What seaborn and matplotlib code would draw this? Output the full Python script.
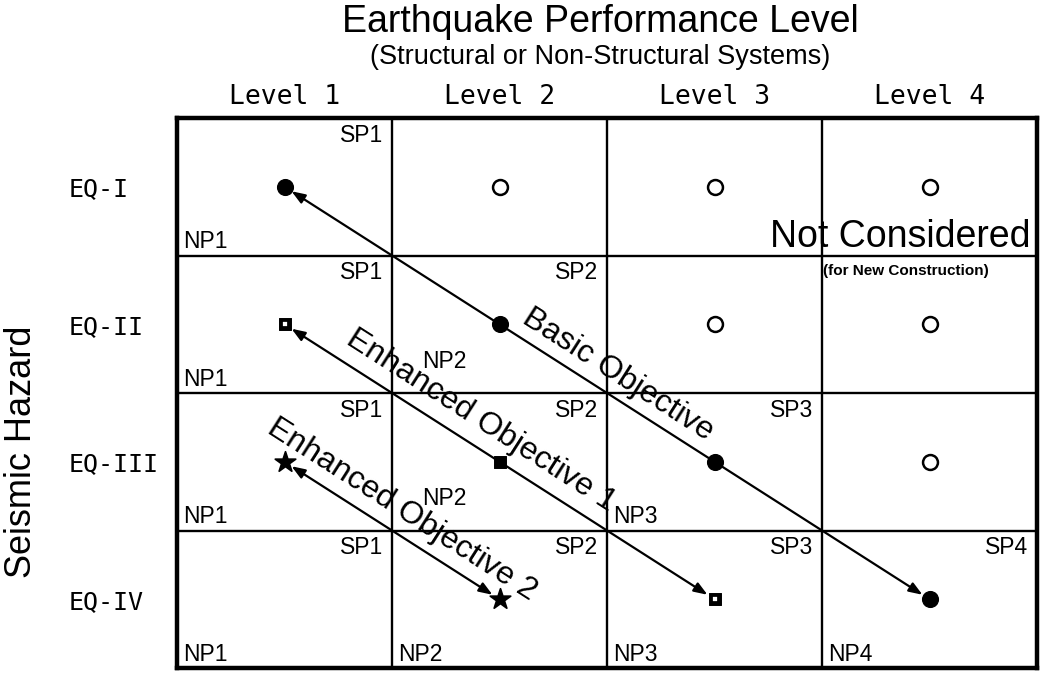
import numpy as np
import matplotlib
matplotlib.use("Agg")
import matplotlib.pyplot as plt
import seaborn as sns

# -----------------------------
# Data
# -----------------------------
levels = ["Level 1", "Level 2", "Level 3", "Level 4"]
hazards = ["EQ-I", "EQ-II", "EQ-III", "EQ-IV"]

# objectives: level index, hazard index
basic_lvl = [0, 1, 2, 3]
basic_haz = [0, 1, 2, 3]
enh1_lvl = [0, 1, 2]
enh1_haz = [1, 2, 3]
enh2_lvl = [0, 1]
enh2_haz = [2, 3]

# not considered (for new construction)
nc_lvl = [1, 2, 3, 2, 3, 3]
nc_haz = [0, 0, 0, 1, 1, 2]

# performance labels per cell: (level, hazard, SP label, NP label)
cell_lvl = [0, 0, 1, 0, 1, 2, 0, 1, 2, 3]
cell_haz = [0, 1, 1, 2, 2, 2, 3, 3, 3, 3]
cell_sp = ["SP1", "SP1", "SP2", "SP1", "SP2", "SP3", "SP1", "SP2", "SP3", "SP4"]
cell_np = ["NP1", "NP1", "NP2", "NP1", "NP2", "NP3", "NP1", "NP2", "NP3", "NP4"]
raised_np = [False, False, True, False, True, False, False, False, False, False]

objective_names = ["Basic Objective", "Enhanced Objective 1", "Enhanced Objective 2"]
objective_text_pos = [(1.55, 1.37), (0.915, 1.70), (0.545, 2.35)]

# -----------------------------
# Figure
# -----------------------------
sns.set_style("white")
plt.rcParams["font.family"] = ["Liberation Sans", "DejaVu Sans"]
plt.rcParams["text.color"] = "black"
plt.rcParams["xtick.color"] = "black"
plt.rcParams["ytick.color"] = "black"

fig = plt.figure(figsize=(10.44, 6.74), dpi=100)
ax = fig.add_axes([177 / 1044, 6 / 674, 860 / 1044, 550 / 674])

# markers
sns.scatterplot(x=nc_lvl, y=nc_haz, marker="o", s=115, facecolor="white",
                edgecolor="black", linewidth=1.8, ax=ax, zorder=4)
sns.scatterplot(x=basic_lvl, y=basic_haz, marker="o", s=130, color="black",
                edgecolor="black", ax=ax, zorder=4)
sns.scatterplot(x=enh1_lvl, y=enh1_haz, marker="s", s=75, color="black",
                edgecolor="black", ax=ax, zorder=4)
sns.scatterplot(x=[enh1_lvl[0], enh1_lvl[-1]], y=[enh1_haz[0], enh1_haz[-1]],
                marker="s", s=5, color="white", edgecolor="white", ax=ax, zorder=5)
sns.scatterplot(x=enh2_lvl, y=enh2_haz, marker="*", s=240, color="black",
                edgecolor="black", ax=ax, zorder=4)

ax.set_xlim(-0.5, 3.5)
ax.set_ylim(3.5, -0.5)
ax.set_xlabel("")
ax.set_ylabel("")

# grid lines
for k in [0.5, 1.5, 2.5]:
    ax.axvline(k, color="black", lw=1.7, zorder=1)
    ax.axhline(k, color="black", lw=1.7, zorder=1)
for s in ax.spines.values():
    s.set_visible(True)
    s.set_color("black")
    s.set_linewidth(3.2)

# objective arrows
arrow_kw = dict(arrowstyle="<|-|>,head_length=0.8,head_width=0.3",
                color="black", lw=1.6, shrinkA=6, shrinkB=6, mutation_scale=10)
for lv, hz in [(basic_lvl, basic_haz), (enh1_lvl, enh1_haz), (enh2_lvl, enh2_haz)]:
    ax.annotate("", xy=(lv[0], hz[0]), xytext=(lv[-1], hz[-1]),
                arrowprops=arrow_kw, zorder=3)

# rotation along diagonal
p0 = ax.transData.transform((0, 0))
p1 = ax.transData.transform((1, 1))
angle = np.degrees(np.arctan2(p1[1] - p0[1], p1[0] - p0[0]))
for name, (tx, ty) in zip(objective_names, objective_text_pos):
    ax.text(tx, ty, name, rotation=angle, rotation_mode="anchor",
            ha="center", va="center", fontsize=23, zorder=6)

# SP / NP labels
for lv, hz, sp, npl, raised in zip(cell_lvl, cell_haz, cell_sp, cell_np, raised_np):
    ax.text(lv + 0.5 - 0.04, hz - 0.5 + 0.125, sp, ha="right", va="center", fontsize=16.5)
    if raised:
        ax.text(lv - 0.5 + 0.14, hz + 0.5 - 0.23, npl, ha="left", va="center", fontsize=16.5)
    else:
        ax.text(lv - 0.5 + 0.03, hz + 0.5 - 0.1, npl, ha="left", va="center", fontsize=16.5)

ax.text(3.5 - 0.03, 0.435, "Not Considered", ha="right", va="baseline", fontsize=27, zorder=6)
ax.text(2.5 + 0.005, 0.61, "(for New Construction)", ha="left", va="center",
        fontsize=11, fontweight="bold")

# axis tick labels
ax.xaxis.tick_top()
ax.set_xticks(range(len(levels)))
ax.set_xticklabels(levels, fontsize=19, family="DejaVu Sans Mono")
ax.tick_params(axis="x", length=0, pad=6)
ax.set_yticks(range(len(hazards)))
ax.set_yticklabels(hazards, fontsize=18, family="DejaVu Sans Mono", ha="left")
ax.tick_params(axis="y", length=0, pad=78)

fig.text(600 / 1044, 1 - 22 / 674, "Earthquake Performance Level",
         ha="center", va="center", fontsize=27)
fig.text(600 / 1044, 1 - 57 / 674, "(Structural or Non-Structural Systems)",
         ha="center", va="center", fontsize=19.5)
fig.text(22 / 1044, 1 - 452 / 674, "Seismic Hazard", rotation=90,
         ha="center", va="center", fontsize=26)

fig.savefig("out.png", dpi=100, facecolor="white")
